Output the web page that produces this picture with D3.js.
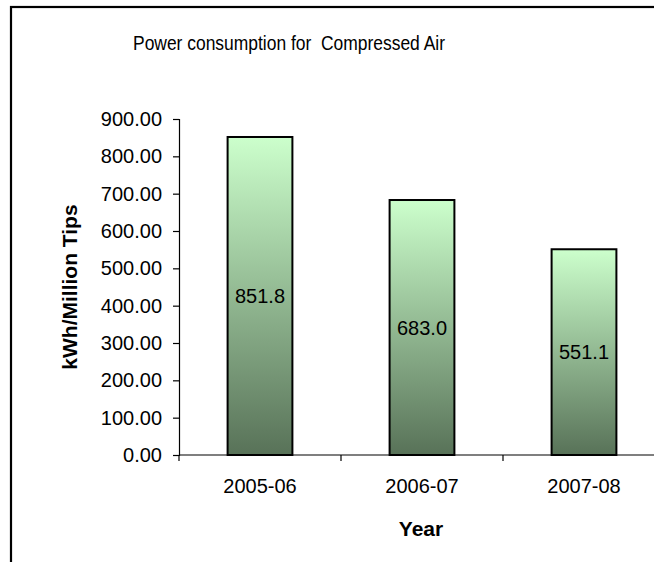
<!DOCTYPE html>
<html>
<head>
<meta charset="utf-8">
<script src="https://cdn.jsdelivr.net/npm/d3@7/dist/d3.min.js"></script>
<style>
  html, body { margin: 0; padding: 0; background: #fff; }
  svg { display: block; font-family: Arial, "Liberation Sans", sans-serif; }
</style>
</head>
<body>
<svg id="chart" width="654" height="562"></svg>
<script>
// Power consumption for compressed air, per financial year
const years = ["2005-06", "2006-07", "2007-08"];
const consumption = [851.8, 683.0, 551.1];
const yTicks = [0, 100, 200, 300, 400, 500, 600, 700, 800, 900];
const chartTitle = "Power consumption for  Compressed Air";
const yTitle = "kWh/Million Tips";
const xTitle = "Year";

const svg = d3.select("#chart");

// outer chart frame (continues past the right/bottom edge of the page)
svg.append("rect")
  .attr("x", 11).attr("y", 7)
  .attr("width", 700).attr("height", 620)
  .attr("fill", "#fff")
  .attr("stroke", "#000")
  .attr("stroke-width", 2.2);

const plot = { left: 179, right: 665, top: 119, bottom: 455 };

const x = d3.scaleBand()
  .domain(years)
  .range([plot.left, plot.right])
  .paddingInner(0.6)
  .paddingOuter(0.3);

const y = d3.scaleLinear()
  .domain([0, 900])
  .range([plot.bottom, plot.top]);

// vertical gradient used by each bar
const defs = svg.append("defs");
const grad = defs.append("linearGradient")
  .attr("id", "barFill")
  .attr("x1", 0).attr("y1", 0).attr("x2", 0).attr("y2", 1);
grad.append("stop").attr("offset", "0%").attr("stop-color", "#ccffcc");
grad.append("stop").attr("offset", "100%").attr("stop-color", "#587258");

// bars
svg.append("g").selectAll("rect")
  .data(years)
  .join("rect")
  .attr("x", d => x(d))
  .attr("y", (d, i) => y(consumption[i]))
  .attr("width", x.bandwidth())
  .attr("height", (d, i) => y(0) - y(consumption[i]))
  .attr("fill", "url(#barFill)")
  .attr("stroke", "#000")
  .attr("stroke-width", 2);

// value labels in the middle of each bar
svg.append("g").selectAll("text")
  .data(years)
  .join("text")
  .attr("x", d => x(d) + x.bandwidth() / 2)
  .attr("y", (d, i) => y(consumption[i] / 2))
  .attr("dy", "0.35em")
  .attr("text-anchor", "middle")
  .attr("font-size", 20)
  .attr("fill", "#000")
  .text((d, i) => consumption[i].toFixed(1));

// y axis
const yAxis = svg.append("g")
  .attr("transform", `translate(${plot.left},0)`)
  .call(d3.axisLeft(y).tickValues(yTicks).tickSize(6).tickPadding(11)
    .tickFormat(d3.format(".2f")));
yAxis.select(".domain").attr("stroke", "#000").attr("stroke-width", 1.2);
yAxis.selectAll(".tick line").attr("stroke", "#000").attr("stroke-width", 1.2);
yAxis.selectAll(".tick text")
  .attr("font-size", 20).attr("font-family", "Arial, 'Liberation Sans', sans-serif")
  .attr("fill", "#000");

// x axis: ticks sit at the category boundaries
const bounds = [plot.left, ...years.map((d, i) => plot.left + (i + 1) * x.step())];
const xAxisG = svg.append("g");
xAxisG.append("line")
  .attr("x1", plot.left).attr("x2", plot.right)
  .attr("y1", plot.bottom).attr("y2", plot.bottom)
  .attr("stroke", "#000").attr("stroke-width", 1.2);
xAxisG.selectAll("line.tick")
  .data(bounds)
  .join("line")
  .attr("class", "tick")
  .attr("x1", d => d).attr("x2", d => d)
  .attr("y1", plot.bottom).attr("y2", plot.bottom + 6)
  .attr("stroke", "#000").attr("stroke-width", 1.2);
xAxisG.selectAll("text")
  .data(years)
  .join("text")
  .attr("x", d => x(d) + x.bandwidth() / 2)
  .attr("y", 493)
  .attr("text-anchor", "middle")
  .attr("font-size", 20)
  .attr("fill", "#000")
  .text(d => d);

// titles
svg.append("text")
  .attr("x", 289).attr("y", 50)
  .attr("text-anchor", "middle")
  .attr("font-size", 20)
  .attr("textLength", 312)
  .attr("lengthAdjust", "spacingAndGlyphs")
  .attr("xml:space", "preserve")
  .style("white-space", "pre")
  .text(chartTitle);

svg.append("text")
  .attr("x", 421).attr("y", 536)
  .attr("text-anchor", "middle")
  .attr("font-size", 21)
  .attr("font-weight", "bold")
  .text(xTitle);

svg.append("text")
  .attr("transform", `translate(77,${(plot.top + plot.bottom) / 2}) rotate(-90)`)
  .attr("text-anchor", "middle")
  .attr("font-size", 21)
  .attr("font-weight", "bold")
  .text(yTitle);
</script>
</body>
</html>
